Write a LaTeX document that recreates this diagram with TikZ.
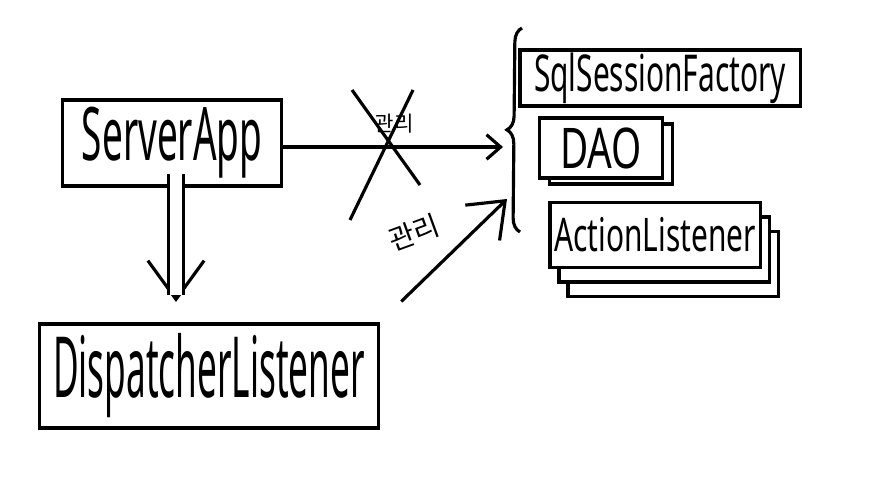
\documentclass[tikz,border=0pt]{standalone}
\usepackage{fontspec}
\usepackage{graphicx}
\setmainfont{Noto Sans}
\newfontfamily\krfont{Noto Sans CJK KR}
\usetikzlibrary{arrows.meta,decorations.pathreplacing,shadows,calc}
\newcommand{\tall}[2]{\scalebox{1}[#1]{#2}}

\begin{document}
\begin{tikzpicture}[x=0.01cm, y=-0.01cm,
    box/.style={draw, line width=0.9pt, fill=white, inner sep=0pt},
    link/.style={line width=0.9pt},
    note/.style={font=\krfont\fontsize{6}{7}\selectfont, inner sep=0pt}]
    \useasboundingbox (0,0) rectangle (877,477);
    \node[box, minimum width=2.19cm, minimum height=0.86cm] (sa) at (172,143)
      {\fontsize{10.5}{12}\selectfont\tall{2}{ServerApp}};
    \node[box, minimum width=3.38cm, minimum height=1.04cm] (dl) at (209,376)
      {\fontsize{10}{12}\selectfont\tall{2.4}{DispatcherListener}};
    \node[box, minimum width=2.8cm, minimum height=0.56cm] (ssf) at (660,78)
      {\fontsize{8.5}{10}\selectfont\tall{1.7}{SqlSessionFactory}};
    \node[box, copy shadow={shadow xshift=0.1cm, shadow yshift=-0.06cm, line width=0.9pt},
      minimum width=1.23cm, minimum height=0.6cm] (dao) at (601,148)
      {\fontsize{11}{13}\selectfont\tall{1.45}{DAO}};
    \node[box, copy shadow={shadow xshift=0.18cm, shadow yshift=-0.29cm, line width=0.9pt},
      copy shadow={shadow xshift=0.09cm, shadow yshift=-0.145cm, line width=0.9pt},
      minimum width=2.1cm, minimum height=0.65cm] (al) at (655,235)
      {\fontsize{8.5}{10}\selectfont\tall{1.55}{ActionListener}};
    \draw[link, decorate, decoration={brace, amplitude=4pt}] (520,232) -- (522,28);
    \coordinate (in1) at (503,147);
    \coordinate (in2) at (507,199);
    \coordinate (down) at (176,302);
    \draw[link, -{Straight Barb[length=4pt, width=7pt]}] (sa.east |- in1) -- (in1);
    \draw[link] (352,90) -- (420,185);
    \draw[link] (413,90) -- (350,220);
    \node[note] (n1) at (394,124) {관리};
    \draw[link, -{Straight Barb[length=11pt, width=16pt]}] ($(down)+(0,-40)$) -- (down);
    \draw[link, double, double distance=3.2pt, shorten >=2pt] ($(sa.south)+(4,-14)$) -- (down);
    \draw[link, -{Straight Barb[length=9pt, width=14pt]}, shorten <=3mm] (dl.north east) -- (in2);
    \node[note, font=\krfont\fontsize{8}{9}\selectfont, rotate=20] (n2) at (414,233) {관리};
\end{tikzpicture}
\end{document}
